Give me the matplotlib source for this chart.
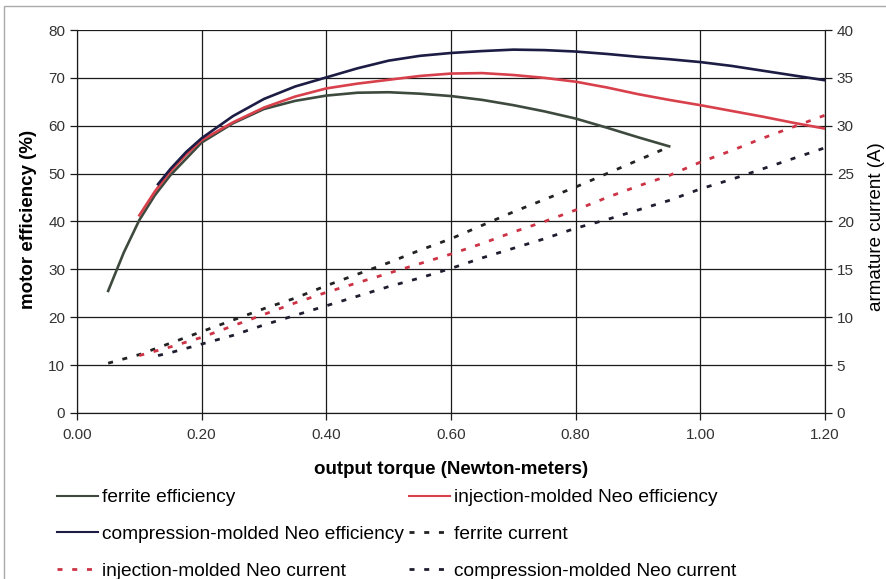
import matplotlib
matplotlib.use("Agg")
import matplotlib.pyplot as plt
from matplotlib.lines import Line2D
from matplotlib.patches import Rectangle

plt.rcParams['font.family'] = ['Liberation Sans', 'DejaVu Sans']
plt.rcParams['lines.scale_dashes'] = False

# ---------------- data ----------------
ferrite_x = [0.05, 0.075, 0.10, 0.125, 0.15, 0.20, 0.25, 0.30, 0.35, 0.40, 0.45, 0.50,
             0.55, 0.60, 0.65, 0.70, 0.75, 0.80, 0.85, 0.90, 0.95]
ferrite_eff = [25.5, 33.5, 40.3, 45.5, 49.7, 56.5, 60.5, 63.5, 65.2, 66.3, 66.9, 67.0,
               66.7, 66.2, 65.4, 64.3, 63.0, 61.5, 59.6, 57.6, 55.7]

injection_x = [0.10, 0.125, 0.15, 0.175, 0.20, 0.25, 0.30, 0.35, 0.40, 0.45, 0.50, 0.55,
               0.60, 0.65, 0.70, 0.75, 0.80, 0.85, 0.90, 0.95, 1.00, 1.05, 1.10, 1.15, 1.20]
injection_eff = [41.3, 46.3, 50.5, 54.0, 57.0, 60.7, 63.8, 66.1, 67.8, 68.8, 69.6, 70.4,
                 70.9, 71.0, 70.6, 70.0, 69.2, 68.0, 66.6, 65.4, 64.3, 63.1, 61.9, 60.6, 59.4]

compression_x = [0.13, 0.15, 0.175, 0.20, 0.25, 0.30, 0.35, 0.40, 0.45, 0.50, 0.55, 0.60,
                 0.65, 0.70, 0.75, 0.80, 0.85, 0.90, 0.95, 1.00, 1.05, 1.10, 1.15, 1.20]
compression_eff = [47.8, 51.0, 54.5, 57.4, 62.0, 65.6, 68.2, 70.1, 72.0, 73.6, 74.6, 75.2,
                   75.6, 75.9, 75.8, 75.5, 75.0, 74.4, 73.9, 73.3, 72.5, 71.5, 70.5, 69.5]

ferrite_cur_x = [0.05, 0.10, 0.15, 0.20, 0.25, 0.30, 0.35, 0.40, 0.45, 0.50, 0.55, 0.60,
                 0.65, 0.70, 0.75, 0.80, 0.85, 0.90, 0.95]
ferrite_cur = [5.2, 6.1, 7.3, 8.5, 9.7, 10.9, 12.0, 13.3, 14.5, 15.7, 17.0, 18.2,
               19.6, 21.0, 22.3, 23.6, 25.0, 26.4, 27.8]

injection_cur_x = [0.10, 0.15, 0.20, 0.25, 0.30, 0.35, 0.40, 0.45, 0.50, 0.55, 0.60, 0.65,
                   0.70, 0.75, 0.80, 0.85, 0.90, 0.95, 1.00, 1.05, 1.10, 1.15, 1.20]
injection_cur = [6.0, 6.9, 7.9, 9.1, 10.3, 11.5, 12.6, 13.6, 14.6, 15.6, 16.6, 17.7,
                 18.9, 20.0, 21.2, 22.5, 23.7, 24.8, 26.2, 27.4, 28.7, 29.9, 31.1]

compression_cur_x = [0.13, 0.15, 0.20, 0.25, 0.30, 0.35, 0.40, 0.45, 0.50, 0.55, 0.60, 0.65,
                     0.70, 0.75, 0.80, 0.85, 0.90, 0.95, 1.00, 1.05, 1.10, 1.15, 1.20]
compression_cur = [6.0, 6.3, 7.2, 8.1, 9.2, 10.2, 11.2, 12.2, 13.2, 14.1, 15.1, 16.2,
                   17.2, 18.2, 19.3, 20.2, 21.2, 22.2, 23.4, 24.4, 25.5, 26.6, 27.7]

x_ticks = [0.0, 0.2, 0.4, 0.6, 0.8, 1.0, 1.2]
eff_ticks = [0, 10, 20, 30, 40, 50, 60, 70, 80]
cur_ticks = [0, 5, 10, 15, 20, 25, 30, 35, 40]

labels = ["ferrite efficiency", "injection-molded Neo efficiency",
          "compression-molded Neo efficiency", "ferrite current",
          "injection-molded Neo current", "compression-molded Neo current"]

# ---------------- styles ----------------
c_ferrite = '#3e4a3e'
c_inj = '#d8404c'
c_comp = '#1c1c44'
c_fcur = '#222222'
c_icur = '#cc3345'
c_ccur = '#1e1e30'
dash = (0, (3.6, 7.0))

fig = plt.figure(figsize=(8.87, 5.79), dpi=100)
ax = fig.add_axes([77/887, 1-413/579, 748/887, 383/579])
ax2 = ax.twinx()

ax.plot(ferrite_x, ferrite_eff, color=c_ferrite, lw=1.9, zorder=3)
ax.plot(injection_x, injection_eff, color=c_inj, lw=1.9, zorder=4)
ax.plot(compression_x, compression_eff, color=c_comp, lw=1.9, zorder=5)

ax2.plot(ferrite_cur_x, ferrite_cur, color=c_fcur, lw=2.0, ls=dash)
ax2.plot(injection_cur_x, injection_cur, color=c_icur, lw=2.0, ls=dash)
ax2.plot(compression_cur_x, compression_cur, color=c_ccur, lw=2.0, ls=dash)

ax.set_xlim(0, 1.2)
ax.set_ylim(0, 80)
ax2.set_ylim(0, 40)
ax.set_xticks(x_ticks)
ax.set_xticklabels([f"{v:.2f}" for v in x_ticks])
ax.set_yticks(eff_ticks)
ax2.set_yticks(cur_ticks)

ax.grid(True, color='#1a1a1a', lw=0.9)
ax.set_axisbelow(True)
for a in (ax, ax2):
    a.spines['top'].set_visible(False)
    for s in ('left', 'right', 'bottom'):
        a.spines[s].set_color('#1a1a1a')
ax.tick_params(axis='both', labelsize=11, length=5, width=0.9, color='#1a1a1a', labelcolor='#333333')
ax2.tick_params(axis='y', labelsize=11, length=5, width=0.9, color='#1a1a1a', labelcolor='#333333')
ax.tick_params(axis='x', pad=6)

ax.set_xlabel("output torque (Newton-meters)", fontsize=13.5, fontweight='bold')
ax.xaxis.set_label_coords(0.5, -0.125)
ax.set_ylabel("motor efficiency (%)", fontsize=13.5, fontweight='bold')
ax.yaxis.set_label_coords(-0.0535, 0.5065)
ax2.set_ylabel("armature current (A)", fontsize=13.5)
ax2.yaxis.set_label_coords(1.0575, 0.486)

# legend
h = [Line2D([], [], color=c_ferrite, lw=1.5),
     Line2D([], [], color=c_inj, lw=1.5),
     Line2D([], [], color=c_comp, lw=1.5),
     Line2D([], [], color=c_fcur, lw=2.0, ls=dash),
     Line2D([], [], color=c_icur, lw=2.0, ls=dash),
     Line2D([], [], color=c_ccur, lw=2.0, ls=dash)]
order = [0, 2, 4, 1, 3, 5]
leg = fig.legend([h[i] for i in order], [labels[i] for i in order], ncol=2,
                 loc='upper left', bbox_to_anchor=(57/887, 1-489/579), frameon=False,
                 handlelength=2.15, handletextpad=0.2, columnspacing=0.25,
                 labelspacing=1.0, borderaxespad=0, borderpad=0,
                 prop={'size': 13.8})

# figure frame
fig.patches.append(Rectangle((4/887, -0.05), 1.2, 1-6/579+0.05, transform=fig.transFigure,
                             fill=False, edgecolor='#aaaaaa', lw=1.0))

fig.savefig("out.png", dpi=100)
